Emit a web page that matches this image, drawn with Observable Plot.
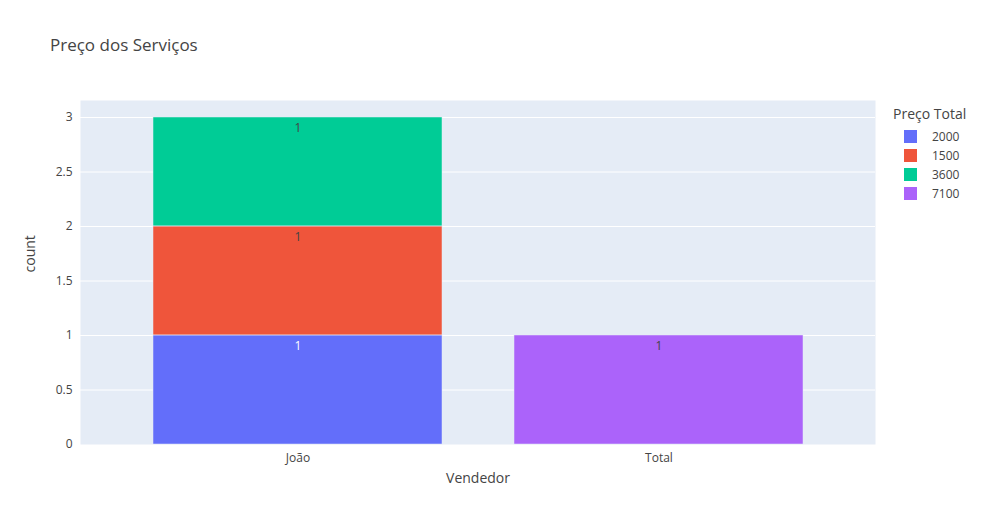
<!DOCTYPE html>
<html><head><meta charset="utf-8">
<script src="https://cdn.jsdelivr.net/npm/d3@7"></script>
<script src="https://cdn.jsdelivr.net/npm/@observablehq/plot@0.6"></script>
<style>
body{margin:0;background:#fff;font-family:"Open Sans",sans-serif;color:#444}
#wrap{position:relative;width:983px;height:525px}
#title{position:absolute;left:50px;top:33px;font-size:17px;color:#444}
#legend{position:absolute;left:893px;top:104px;font-size:12px}
#legend .h{font-size:14px;margin-bottom:4px}
#legend .r{display:flex;align-items:center;height:19px;margin-left:11px}
#legend .s{width:13px;height:13px;margin-right:15px}
</style></head><body>
<div id="wrap"><div id="chart"></div><div id="title">Preço dos Serviços</div><div id="legend"></div></div>
<script>
const vendedores = ['João', 'João', 'João', 'Total']
const precos = ['2000', '1500', '3600', '7100']
const counts = [1, 1, 1, 1]
const colors = ['#636efa', '#EF553B', '#00cc96', '#ab63fa']

const data = precos.map((p, i) => ({vendedor: vendedores[i], preco: p, count: counts[i]}))

let chart = Plot.plot({
  width: 983, height: 525,
  marginLeft: 80, marginRight: 108, marginTop: 100, marginBottom: 81,
  style: {fontFamily: '"Open Sans", sans-serif', fontSize: '12px', color: '#444', background: 'transparent'},
  x: {domain: ['João', 'Total'], padding: 0.2, label: null, tickSize: 0, tickPadding: 8},
  y: {domain: [0, 3.156], ticks: [0, 0.5, 1, 1.5, 2, 2.5, 3], tickFormat: d => String(d), label: null, tickSize: 0, tickPadding: 8},
  color: {domain: precos, range: colors},
  marks: [
    Plot.frame({fill: '#e5ecf6', stroke: null}),
    Plot.gridY([0.5, 1, 1.5, 2, 2.5, 3], {stroke: '#fff', strokeOpacity: 1, strokeWidth: 1}),
    Plot.barY(data, {x: 'vendedor', y: 'count', fill: 'preco', order: precos, insetLeft: 0, insetRight: 0}),
    Plot.barY(data, {x: 'vendedor', y: 'count', fill: 'preco', order: precos, stroke: '#e5ecf6', strokeWidth: 0.5, fillOpacity: 0}),
    Plot.text(data, Plot.stackY2({x: 'vendedor', y: 'count', z: 'preco', order: precos, text: d => String(d.count), dy: 11,
      fill: d => d.preco === '2000' ? '#fff' : '#444', fontSize: 12})),
    Plot.axisX({label: null, tickSize: 0}),
    Plot.text(['Vendedor'], {frameAnchor: 'bottom', dy: 38, fontSize: 14, fill: '#444'}),
    Plot.text(['count'], {frameAnchor: 'left', dx: -50, rotate: -90, fontSize: 14, fill: '#444'})
  ]
})
d3.select('#chart').append(() => chart)

const lg = d3.select('#legend')
lg.append('div').attr('class', 'h').text('Preço Total')
precos.forEach((p, i) => {
  const r = lg.append('div').attr('class', 'r')
  r.append('div').attr('class', 's').style('background', colors[i])
  r.append('span').text(p)
})
</script>
</body></html>
